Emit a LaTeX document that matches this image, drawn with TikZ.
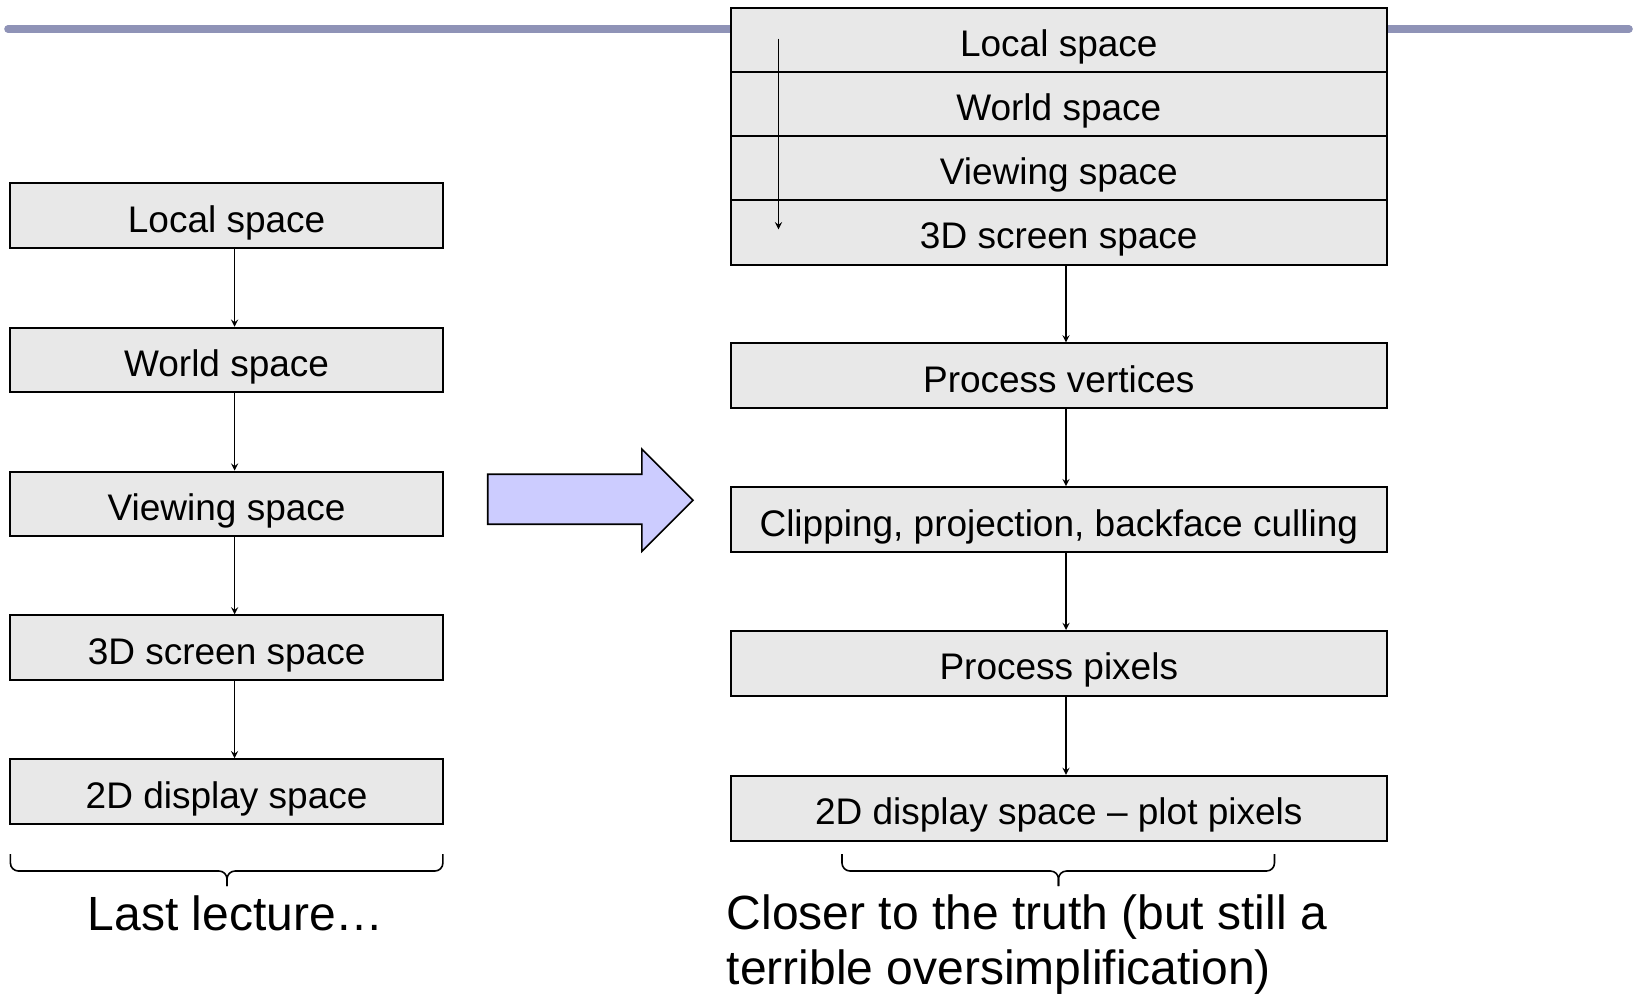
\documentclass[tikz,border=0pt]{standalone}
\usepackage{fontspec}
\setmainfont{Liberation Sans}
\usetikzlibrary{calc}
\definecolor{figgray}{HTML}{E8E8E8}
\definecolor{figline}{HTML}{8F93B7}
\definecolor{figlav}{HTML}{CCCCFF}
\tikzset{
  stagebox/.style={draw,fill=figgray,line width=1pt,minimum height=32.3pt,inner sep=0pt,
    font=\fontsize{18.5}{22}\selectfont,text height=20.3pt,text depth=3.7pt},
  lbox/.style={stagebox,minimum width=216.25pt},
  rbox/.style={stagebox,minimum width=328.25pt},
  flow/.style={->,>=stealth,line width=0.6pt},
  caption/.style={font=\fontsize{24}{27.6}\selectfont,inner sep=0pt}
}

\begin{document}
\begin{tikzpicture}[x=0.5pt,y=-0.5pt]
    \useasboundingbox (0,0) rectangle (1634,993);
    \draw[figline,line width=3.8pt,line cap=round] (8,29) -- (1629,29);
    % last lecture
    \node[lbox] (lloc) at (226.6,215.7) {Local space};
    \node[lbox] (lwor) at (226.6,360) {World space};
    \node[lbox] (lview) at (226.6,503.9) {Viewing space};
    \node[lbox] (lscr) at (226.6,647.7) {3D screen space};
    \node[lbox] (ldisp) at (226.6,791.5) {2D display space};
    \foreach \a/\b in {lloc/lwor,lwor/lview,lview/lscr,lscr/ldisp}
      \draw[flow] ([xshift=4pt]\a.south) -- ([xshift=4pt]\b.north);
    % closer to the truth
    \node[rbox] (rloc) at (1058.8,40.3) {Local space};
    \node[rbox] (rwor) at (1058.8,104.3) {World space};
    \node[rbox] (rview) at (1058.8,168.3) {Viewing space};
    \node[rbox] (rscr) at (1058.8,232.3) {3D screen space};
    \node[rbox] (rvert) at (1058.8,375.7) {Process vertices};
    \node[rbox] (rclip) at (1058.8,519.5) {Clipping, projection, backface culling};
    \node[rbox] (rpix) at (1058.8,663.3) {Process pixels};
    \node[rbox] (rdisp) at (1058.8,808.2) {2D display space -- plot pixels};
    \foreach \a/\b in {rscr/rvert,rvert/rclip,rclip/rpix,rpix/rdisp}
      \draw[flow] ([xshift=3.6pt]\a.south) -- ([xshift=3.6pt]\b.north);
    \coordinate (tstart) at (778.5,38.6);
    \coordinate (tend) at (778.5,229.3);
    \draw[flow] (tstart) -- (tend);
    % big arrow
    \draw[line width=0.8pt,fill=figlav] (487.7,474.2) -- (641.9,474.2) -- (641.9,449.1)
      -- (693,500.2) -- (641.9,551.3) -- (641.9,524.2) -- (487.7,524.2) -- cycle;
    % braces
    \foreach \xa/\xm/\xb in {10.4/227/442.9,842/1058.5/1274.5} {
      \draw[line width=0.8pt,rounded corners=4pt] (\xa,854) -- (\xa,871) -- (\xm,871) -- (\xm,886);
      \draw[line width=0.8pt,rounded corners=4pt] (\xb,854) -- (\xb,871) -- (\xm,871) -- (\xm,886);
    }
    \node[caption,anchor=base] (lcap) at (236,930.6) {Last lecture…};
    \node[caption,anchor=base west,align=left] (rcap) at (726.3,984.8)
      {Closer to the truth (but still a\\terrible oversimplification)};
\end{tikzpicture}
\end{document}
